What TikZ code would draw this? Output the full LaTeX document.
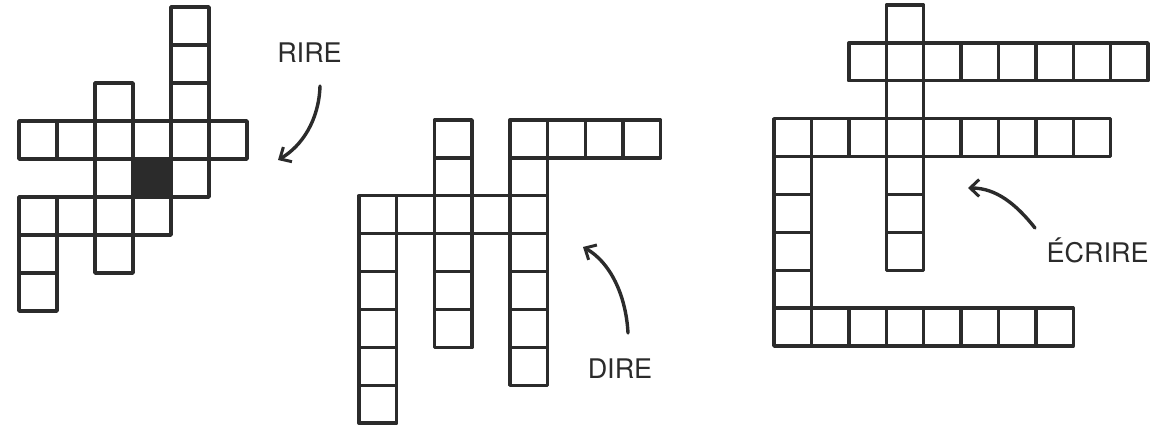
\documentclass[tikz,border=0pt]{standalone}
\usepackage{fontspec}
\newfontfamily\lab{TeX Gyre Heros}
\usetikzlibrary{arrows.meta}
\definecolor{ink}{HTML}{2B2B2B}
\tikzset{
  cellbox/.style={draw=ink, line width=3.4pt, line join=round},
  blackcell/.style={cellbox, fill=ink},
  wordlabel/.style={font=\lab\fontsize{27}{30}\selectfont, text=ink, inner sep=0pt, anchor=base},
  pointer/.style={draw=ink, line width=3.4pt, line cap=round, -{Straight Barb[length=9pt,width=17pt,line width=3pt]}}
}
\newcommand{\cellat}[2]{\draw[cellbox] (#1,#2) rectangle ++(1,1);}
\begin{document}
\begin{tikzpicture}[x=1pt,y=-1pt]
\useasboundingbox[fill=white] (0,0) rectangle (1171,427);
% ---- grid 1 : RIRE ----
\begin{scope}[shift={(19,7)}, x=38pt, y=-38pt]
  \foreach \r in {0,...,4} {\cellat{4}{\r}}
  \foreach \c in {0,1,2,3,5} {\cellat{\c}{3}}
  \foreach \r in {2,4,5,6} {\cellat{2}{\r}}
  \foreach \c/\r in {0/5,1/5,3/5,0/6,0/7} {\cellat{\c}{\r}}
  \draw[blackcell] (3,4) rectangle ++(1,1);
\end{scope}
% ---- grid 2 : DIRE ----
\begin{scope}[shift={(359,120)}, x=37.7pt, y=-37.9pt]
  \foreach \r in {2,...,7} {\cellat{0}{\r}}
  \foreach \r in {0,...,5} {\cellat{2}{\r}}
  \foreach \r in {0,...,6} {\cellat{4}{\r}}
  \foreach \c in {5,6,7} {\cellat{\c}{0}}
  \foreach \c in {1,3} {\cellat{\c}{2}}
\end{scope}
% ---- grid 3 : ECRIRE ----
\begin{scope}[shift={(774,5)}, x=37.4pt, y=-37.9pt]
  \foreach \r in {0,...,6} {\cellat{3}{\r}}
  \foreach \c in {2,4,5,6,7,8,9} {\cellat{\c}{1}}
  \foreach \c in {0,1,2,4,5,6,7,8} {\cellat{\c}{3}}
  \foreach \r in {4,...,8} {\cellat{0}{\r}}
  \foreach \c in {1,...,7} {\cellat{\c}{8}}
\end{scope}
% ---- labels and pointers ----
\node[wordlabel] (rire) at (309.5,63) {RIRE};
\node[wordlabel] (dire) at (620,379) {DIRE};
\node[wordlabel] (ecrire) at (1097.5,263) {ÉCRIRE};
\coordinate (rireA) at (320,86);
\coordinate (rireB) at (278,160);
\coordinate (direA) at (628,333);
\coordinate (direB) at (583,247);
\coordinate (ecrA) at (1035,228);
\coordinate (ecrB) at (968,188);
\draw[pointer] (rireA) .. controls (319,120) and (302,146) .. (rireB);
\draw[pointer] (direA) .. controls (626,295) and (610,262) .. (direB);
\draw[pointer] (ecrA) .. controls (1016,204) and (996,188) .. (ecrB);
\end{tikzpicture}
\end{document}
